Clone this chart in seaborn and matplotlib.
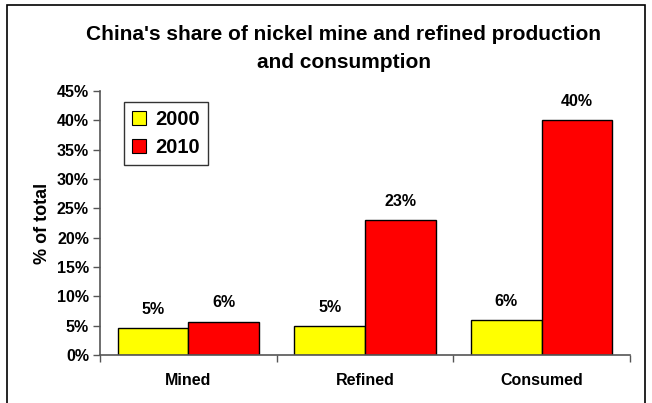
import matplotlib
matplotlib.use("Agg")
import matplotlib.pyplot as plt
import matplotlib.patches as mpatches
from matplotlib.ticker import PercentFormatter
import seaborn as sns
import pandas as pd

# Data: China's share (% of world total)
categories = ["Mined", "Refined", "Consumed"]
years = ["2000", "2010"]
share_2000 = [4.6, 4.95, 5.9]
share_2010 = [5.7, 23.0, 40.0]
colors = ["#FFFF00", "#FF0000"]

df = pd.DataFrame({
    "category": categories * 2,
    "year": [years[0]] * 3 + [years[1]] * 3,
    "share": share_2000 + share_2010,
})

sns.set_theme(style="white")
plt.rcParams["font.family"] = ["Liberation Sans", "DejaVu Sans"]
plt.rcParams["font.weight"] = "bold"
for key in ["text.color", "axes.labelcolor", "xtick.labelcolor", "ytick.labelcolor"]:
    plt.rcParams[key] = "black"

fig = plt.figure(figsize=(6.52, 4.03), dpi=100)
ax = fig.add_axes([100 / 652, 1 - 355 / 403, 530 / 652, 264 / 403])

sns.barplot(data=df, x="category", y="share", hue="year", order=categories,
            hue_order=years, palette=colors, width=0.8, edgecolor="black",
            linewidth=1.0, saturation=1, ax=ax, legend=False)

# value labels above each bar
for container in ax.containers:
    ax.bar_label(container, labels=[f"{v:.0f}%" for v in container.datavalues],
                 padding=8, fontsize=11.5, fontweight="bold", color="black")

ax.set_ylim(0, 45)
ax.set_yticks(range(0, 50, 5))
ax.yaxis.set_major_formatter(PercentFormatter(decimals=0))
ax.set_xlim(-0.5, 2.5)
ax.set_xticks([-0.5, 0.5, 1.5, 2.5], minor=False)
ax.set_xticklabels([])
ax.set_xticks([0, 1, 2], minor=True)
ax.set_xticklabels(categories, minor=True)
ax.tick_params(axis="x", which="major", length=5, width=1, color="#555555",
               direction="out", bottom=True)
ax.tick_params(axis="x", which="minor", length=0, pad=13, labelsize=11.5)
ax.tick_params(axis="y", length=5, width=1, color="#555555", direction="out",
               left=True, labelsize=11.5, pad=3)
for lbl in ax.get_xticklabels(minor=True) + ax.get_yticklabels():
    lbl.set_fontweight("bold")

ax.set_xlabel("")
ax.set_ylabel("% of total", fontsize=13, fontweight="bold", labelpad=4)

for side in ["top", "right"]:
    ax.spines[side].set_visible(False)
for side in ["left", "bottom"]:
    ax.spines[side].set_color("#555555")
    ax.spines[side].set_linewidth(1.2)

handles = [mpatches.Patch(facecolor=c, edgecolor="black", linewidth=0.8, label=y)
           for c, y in zip(colors, years)]
leg = ax.legend(handles=handles, loc="upper left", bbox_to_anchor=(0.045, 0.96),
                frameon=True, fancybox=False, edgecolor="black",
                prop={"weight": "bold", "size": 14.5}, handlelength=0.7,
                handleheight=0.7, handletextpad=0.45, borderpad=0.4,
                labelspacing=0.45, borderaxespad=0)
leg.get_frame().set_linewidth(1.0)

fig.text(344 / 652, 1 - 34 / 403, "China's share of nickel mine and refined production",
         ha="center", va="center", fontsize=15, fontweight="bold")
fig.text(344 / 652, 1 - 63 / 403, "and consumption",
         ha="center", va="center", fontsize=15, fontweight="bold")

# outer chart border
fig.patches.append(mpatches.Rectangle((7 / 652, -0.05), 638 / 652, 1.05 - 5 / 403,
                                      transform=fig.transFigure, fill=False,
                                      edgecolor="black", linewidth=1.2))

fig.savefig("out.png", dpi=100)
